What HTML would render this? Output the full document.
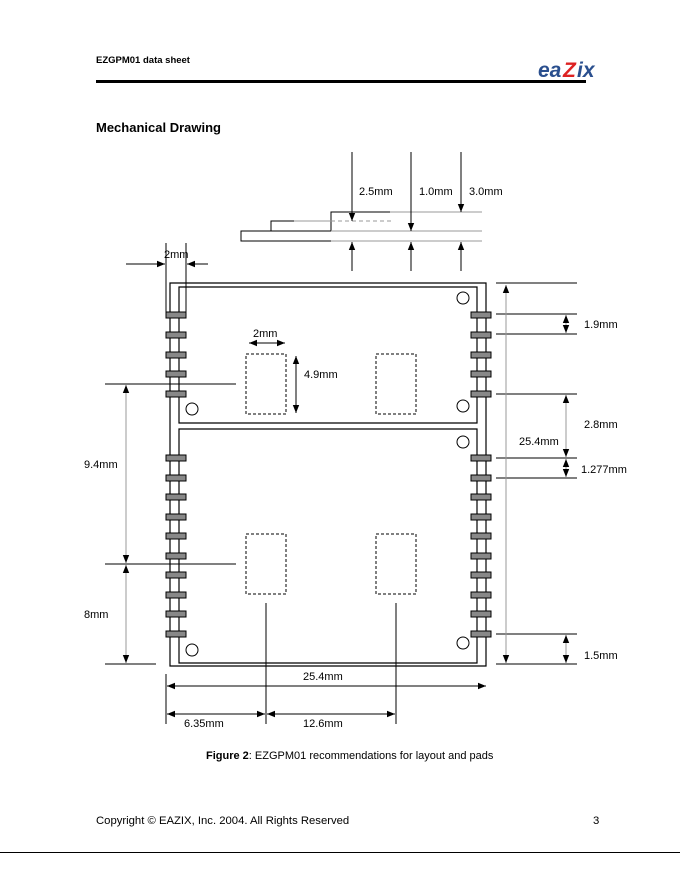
<!DOCTYPE html>
<html><head><meta charset="utf-8"><style>
html,body{margin:0;padding:0;background:#fff;}
svg{display:block;}
text{font-family:"Liberation Sans",Arial,sans-serif;font-size:11px;fill:#000;}
</style></head><body>
<svg width="680" height="880" viewBox="0 0 680 880" xmlns="http://www.w3.org/2000/svg">
<defs>
<marker id="a" viewBox="0 0 10 10" refX="10" refY="5" markerWidth="8" markerHeight="8" orient="auto-start-reverse" markerUnits="userSpaceOnUse"><path d="M0,1 L10,5 L0,9 z" fill="#000"/></marker>
</defs>
<text x="96" y="63" style="font-weight:bold;font-size:9.5px">EZGPM01 data sheet</text>
<rect x="96" y="80" width="490" height="3" fill="#000"/>
<text x="538" y="77" style="font-size:21px;font-weight:bold;font-style:italic;fill:#2a4f8e">ea</text>
<text x="563" y="77" style="font-size:21px;font-weight:bold;font-style:italic;fill:#d22">Z</text>
<text x="577" y="77" style="font-size:21px;font-weight:bold;font-style:italic;fill:#2a4f8e">ix</text>
<text x="96" y="132" style="font-weight:bold;font-size:13px">Mechanical Drawing</text>

<g fill="none" stroke="#000" stroke-width="1">
<path d="M331,231 H241 V241 H331"/>
<path d="M271,231 V221 H294"/>
<path d="M331,231 V212 H390"/>
</g>
<g stroke="#999" stroke-width="1" fill="none">
<path d="M331,231 H482 M331,241 H482 M390,212 H482 M294,221 H331"/>
<path d="M331,221 H392" stroke-dasharray="4,3"/>
</g>
<g stroke="#000" stroke-width="1" marker-end="url(#a)">
<line x1="352" y1="152" x2="352" y2="221"/>
<line x1="411" y1="152" x2="411" y2="231"/>
<line x1="461" y1="152" x2="461" y2="212"/>
<line x1="352" y1="271" x2="352" y2="242"/>
<line x1="411" y1="271" x2="411" y2="242"/>
<line x1="461" y1="271" x2="461" y2="242"/>
</g>
<text x="359" y="195">2.5mm</text>
<text x="419" y="195">1.0mm</text>
<text x="469" y="195">3.0mm</text>

<g stroke="#000" fill="none">
<line x1="166" y1="243" x2="166" y2="314"/>
<line x1="186" y1="243" x2="186" y2="314"/>
<line x1="126" y1="264" x2="165" y2="264" marker-end="url(#a)"/>
<line x1="208" y1="264" x2="187" y2="264" marker-end="url(#a)"/>
</g>
<text x="164" y="258">2mm</text>

<g fill="none" stroke="#000" stroke-width="1.2">
<path d="M170,283 H486 V666 H170 Z"/>
<path d="M179,287 H477 V423 H179 Z"/>
<path d="M179,429 H477 V663 H179 Z"/>
</g>
<g fill="#888" stroke="#000" stroke-width="1">
<rect x="166" y="312" width="20" height="6"/><rect x="166" y="332" width="20" height="6"/><rect x="166" y="352" width="20" height="6"/><rect x="166" y="371" width="20" height="6"/><rect x="166" y="391" width="20" height="6"/>
<rect x="166" y="455" width="20" height="6"/><rect x="166" y="475" width="20" height="6"/><rect x="166" y="494" width="20" height="6"/><rect x="166" y="514" width="20" height="6"/><rect x="166" y="533" width="20" height="6"/><rect x="166" y="553" width="20" height="6"/><rect x="166" y="572" width="20" height="6"/><rect x="166" y="592" width="20" height="6"/><rect x="166" y="611" width="20" height="6"/><rect x="166" y="631" width="20" height="6"/>
<rect x="471" y="312" width="20" height="6"/><rect x="471" y="332" width="20" height="6"/><rect x="471" y="352" width="20" height="6"/><rect x="471" y="371" width="20" height="6"/><rect x="471" y="391" width="20" height="6"/>
<rect x="471" y="455" width="20" height="6"/><rect x="471" y="475" width="20" height="6"/><rect x="471" y="494" width="20" height="6"/><rect x="471" y="514" width="20" height="6"/><rect x="471" y="533" width="20" height="6"/><rect x="471" y="553" width="20" height="6"/><rect x="471" y="572" width="20" height="6"/><rect x="471" y="592" width="20" height="6"/><rect x="471" y="611" width="20" height="6"/><rect x="471" y="631" width="20" height="6"/>
</g>
<g fill="none" stroke="#000" stroke-width="1">
<circle cx="192" cy="409" r="6"/><circle cx="463" cy="298" r="6"/><circle cx="463" cy="406" r="6"/><circle cx="463" cy="442" r="6"/><circle cx="192" cy="650" r="6"/><circle cx="463" cy="643" r="6"/>
</g>
<g fill="none" stroke="#000" stroke-dasharray="3,2">
<rect x="246" y="354" width="40" height="60"/><rect x="376" y="354" width="40" height="60"/>
<rect x="246" y="534" width="40" height="60"/><rect x="376" y="534" width="40" height="60"/>
</g>
<g stroke="#000" fill="none">
<line x1="249" y1="343" x2="285" y2="343" marker-start="url(#a)" marker-end="url(#a)"/>
<line x1="296" y1="356" x2="296" y2="413" marker-start="url(#a)" marker-end="url(#a)"/>
</g>
<text x="253" y="337">2mm</text>
<text x="304" y="378">4.9mm</text>

<g stroke="#000" fill="none">
<line x1="105" y1="384" x2="236" y2="384"/>
<line x1="105" y1="564" x2="236" y2="564"/>
<line x1="105" y1="664" x2="156" y2="664"/>
</g>
<g stroke="#999" fill="none">
<line x1="126" y1="385" x2="126" y2="563" marker-start="url(#a)" marker-end="url(#a)"/>
<line x1="126" y1="565" x2="126" y2="663" marker-start="url(#a)" marker-end="url(#a)"/>
</g>
<text x="84" y="468">9.4mm</text>
<text x="84" y="618">8mm</text>

<g stroke="#000" fill="none">
<line x1="496" y1="283" x2="577" y2="283"/>
<line x1="496" y1="314" x2="577" y2="314"/>
<line x1="496" y1="334" x2="577" y2="334"/>
<line x1="496" y1="394" x2="577" y2="394"/>
<line x1="496" y1="458" x2="577" y2="458"/>
<line x1="496" y1="478" x2="577" y2="478"/>
<line x1="496" y1="634" x2="577" y2="634"/>
<line x1="496" y1="664" x2="577" y2="664"/>
</g>
<g stroke="#999" fill="none">
<line x1="506" y1="285" x2="506" y2="663" marker-start="url(#a)" marker-end="url(#a)"/>
<line x1="566" y1="315" x2="566" y2="333" marker-start="url(#a)" marker-end="url(#a)"/>
<line x1="566" y1="395" x2="566" y2="457" marker-start="url(#a)" marker-end="url(#a)"/>
<line x1="566" y1="459" x2="566" y2="477" marker-start="url(#a)" marker-end="url(#a)"/>
<line x1="566" y1="635" x2="566" y2="663" marker-start="url(#a)" marker-end="url(#a)"/>
</g>
<text x="584" y="328">1.9mm</text>
<text x="584" y="428">2.8mm</text>
<text x="519" y="445">25.4mm</text>
<text x="581" y="473">1.277mm</text>
<text x="584" y="659">1.5mm</text>

<g stroke="#000" fill="none">
<line x1="166" y1="674" x2="166" y2="724"/>
<line x1="266" y1="603" x2="266" y2="724"/>
<line x1="396" y1="603" x2="396" y2="724"/>
<line x1="167" y1="686" x2="486" y2="686" marker-start="url(#a)" marker-end="url(#a)"/>
<line x1="167" y1="714" x2="265" y2="714" marker-start="url(#a)" marker-end="url(#a)"/>
<line x1="267" y1="714" x2="395" y2="714" marker-start="url(#a)" marker-end="url(#a)"/>
</g>
<text x="303" y="680">25.4mm</text>
<text x="184" y="727">6.35mm</text>
<text x="303" y="727">12.6mm</text>

<text x="206" y="759"><tspan style="font-weight:bold">Figure 2</tspan>: EZGPM01 recommendations for layout and pads</text>
<text x="96" y="824" style="font-size:11.3px">Copyright © EAZIX, Inc. 2004.  All Rights Reserved</text>
<text x="593" y="824" style="font-size:11.3px">3</text>
<rect x="0" y="852" width="680" height="1" fill="#000"/>
</svg>
</body></html>
